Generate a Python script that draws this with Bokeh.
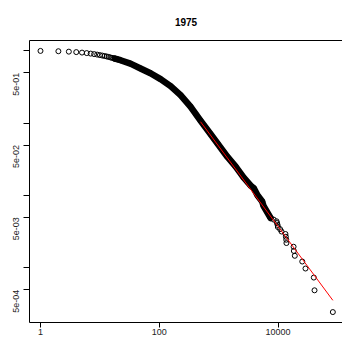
import math
from bokeh.plotting import figure
from bokeh.models import FixedTicker, LogAxis, Range1d
from bokeh.embed import file_html
from bokeh.resources import INLINE

# ---- data (CCDF, log-log) ----
# individual low integer values
top_x = [1, 2, 3, 4, 5, 6, 7, 8, 9, 10, 11, 12, 13, 14, 15, 16, 17, 18, 19, 20]
top_y = [1.0, 0.99, 0.977, 0.963, 0.948, 0.933, 0.918, 0.903, 0.889, 0.875,
         0.862, 0.85, 0.838, 0.826, 0.813, 0.802, 0.791, 0.781, 0.771, 0.762]

# dense middle part (thousands of overlapping points), centre line of the band
band_x = [18, 22.2, 32.7, 48.3, 71.1, 105, 155, 228, 335, 494, 728, 955,
          1406, 1918, 2616, 3430, 3900, 4495, 5400, 5675, 7450]
band_y = [0.781, 0.744, 0.666, 0.572, 0.492, 0.407, 0.326, 0.245, 0.170,
          0.109, 0.0710, 0.0525, 0.0342, 0.0253, 0.0178, 0.0138, 0.01265,
          0.0101, 0.00826, 0.0072, 0.0049]

# sparse upper tail
tail_x = [83400, 41000, 39900, 28900, 25500, 19100, 18400, 18200, 13800,
          13700, 13500, 13300, 11400, 10800, 9900, 9800, 9600, 9400, 8400, 7450]
tail_y = [0.000245, 0.00049, 0.000735, 0.00098, 0.001225, 0.00147, 0.001716,
          0.001961, 0.002206, 0.002451, 0.002696, 0.002941, 0.003186,
          0.003431, 0.003676, 0.003922, 0.004167, 0.004412, 0.004657, 0.004902]

# fitted power-law tail (red line)
fit_x = [494, 83400]
fit_y = [0.105, 0.000356]

x_ticks = [1, 100, 10000]
x_labels = ["1", "100", "10000"]
y_ticks = [0.5, 0.05, 0.005, 0.0005]
y_labels = ["5e-01", "5e-02", "5e-03", "5e-04"]
y_minor = [1.0, 0.1, 0.01, 0.001]

FONT = "Liberation Sans"

p = figure(width=342, height=340, x_axis_type="log", y_axis_type="log",
           x_range=Range1d(0.653, 121300), y_range=Range1d(1.758e-4, 1.393),
           output_backend="svg", toolbar_location=None,
           min_border_left=29, min_border_right=0, min_border_top=40,
           min_border_bottom=18)

p.outline_line_color = None
p.xgrid.visible = False
p.ygrid.visible = False
p.background_fill_color = "white"
p.border_fill_color = "white"

p.title.text = "1975"
p.title.align = "center"
p.title.text_font = FONT
p.title.text_font_size = "10px"
p.title.text_font_style = "bold"
p.title.text_color = "black"
p.title.standoff = 29

xa = p.xaxis[0]
xa.ticker = FixedTicker(ticks=x_ticks)
xa.major_label_overrides = dict(zip(x_ticks, x_labels))
xa.major_label_text_font = FONT
xa.major_label_text_font_size = "9px"
xa.major_label_text_color = "#222222"
xa.major_tick_out = 5
xa.major_tick_in = 0
xa.minor_tick_line_color = None
xa.major_label_standoff = 1
xa.axis_line_color = "black"
xa.major_tick_line_color = "black"

ya = p.yaxis[0]
ya.ticker = FixedTicker(ticks=y_ticks, minor_ticks=y_minor)
ya.major_label_overrides = dict(zip(y_ticks, y_labels))
ya.major_label_orientation = math.pi / 2
ya.major_label_text_font = FONT
ya.major_label_text_font_size = "9px"
ya.major_label_text_color = "#222222"
ya.major_tick_out = 6
ya.major_tick_in = 0
ya.minor_tick_out = 6
ya.minor_tick_in = 0
ya.minor_tick_line_color = "black"
ya.major_tick_line_color = "black"
ya.major_label_standoff = 7
ya.axis_line_color = "black"

top = LogAxis(ticker=FixedTicker(ticks=[]), major_label_text_font_size="0px",
              major_tick_line_color=None, minor_tick_line_color=None,
              axis_line_color="black", major_label_standoff=0)
p.add_layout(top, "above")

# dense band of overlapping markers
p.line(band_x, band_y, line_width=6.5, line_color="black",
       line_join="round", line_cap="round")
p.scatter(band_x, band_y, size=5, marker="circle", fill_color=None,
          line_color="black", line_width=1)
p.scatter(top_x, top_y, size=5, marker="circle", fill_color=None,
          line_color="black", line_width=1)
p.scatter(tail_x, tail_y, size=5, marker="circle", fill_color=None,
          line_color="black", line_width=1)

p.line(fit_x, fit_y, line_color="red", line_width=1)

open("out.html", "w").write(file_html(p, INLINE))
